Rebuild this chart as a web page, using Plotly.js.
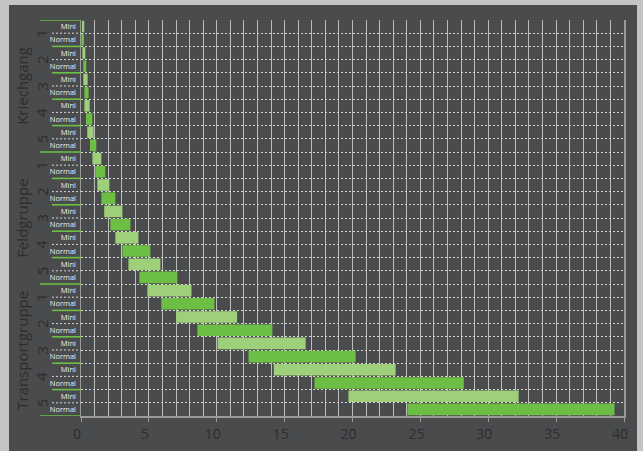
<!DOCTYPE html>
<html>
<head>
<meta charset="utf-8">
<script src="https://cdn.plot.ly/plotly-3.0.1.min.js"></script>
<style>
html,body{margin:0;padding:0;background:#c3c4c6;width:643px;height:451px;overflow:hidden;}
#chart{position:absolute;left:9px;top:5px;width:628px;height:446px;}
</style>
</head>
<body>
<div id="chart"></div>
<script>
// ---- data ----
const groups = ['Kriechgang', 'Feldgruppe', 'Transportgruppe'];
const gears = ['1', '2', '3', '4', '5'];
const types = ['Mini', 'Normal'];
// speed ranges (km/h), 15 gears: Kriechgang 1-5, Feldgruppe 1-5, Transportgruppe 1-5
const miniStart   = [0.07, 0.10, 0.17, 0.25, 0.46, 0.84, 1.20, 1.71, 2.53, 3.49, 4.89, 7.00, 10.06, 14.20, 19.70];
const miniEnd     = [0.24, 0.32, 0.49, 0.64, 0.93, 1.50, 2.09, 3.05, 4.23, 5.85, 8.14, 11.50, 16.55, 23.18, 32.24];
const normalStart = [0.02, 0.17, 0.25, 0.37, 0.66, 1.05, 1.50, 2.16, 3.05, 4.30, 5.92, 8.57, 12.34, 17.20, 24.04];
const normalEnd   = [0.22, 0.39, 0.56, 0.83, 1.13, 1.79, 2.53, 3.64, 5.11, 7.10, 9.83, 14.10, 20.23, 28.20, 39.30];
const xTicks = [0, 5, 10, 15, 20, 25, 30, 35, 40];

// ---- build ----
const nG = groups.length * gears.length;
const miniY = [], normalY = [], miniLen = [], normalLen = [];
for (let i = 0; i < nG; i++) {
  miniY.push(2 * i);
  normalY.push(2 * i + 1);
  miniLen.push(miniEnd[i] - miniStart[i]);
  normalLen.push(normalEnd[i] - normalStart[i]);
}
const tickvals = [], ticktext = [];
for (let i = 0; i < nG; i++) {
  tickvals.push(2 * i, 2 * i + 1);
  ticktext.push(types[0], types[1]);
}

const traces = [
  {type: 'bar', orientation: 'h', y: miniY, x: miniLen, base: miniStart, width: 0.88,
   marker: {color: '#9dd079', line: {width: 0}}, name: types[0]},
  {type: 'bar', orientation: 'h', y: normalY, x: normalLen, base: normalStart, width: 0.88,
   marker: {color: '#6dbe45', line: {width: 0}}, name: types[1]}
];

const nRows = nG * 2;
const shapes = [];
const green = '#6dbe45';
const xLong = -0.0755, xShort = -0.0534;
for (let r = 0; r <= nRows; r++) {
  const y = r - 0.5;
  if (r % 10 === 0) {
    shapes.push({type: 'line', xref: 'paper', yref: 'y', x0: xLong, x1: 0, y0: y, y1: y,
      line: {color: green, width: 1.6}});
  } else if (r % 2 === 0) {
    shapes.push({type: 'line', xref: 'paper', yref: 'y', x0: xShort, x1: 0, y0: y, y1: y,
      line: {color: green, width: 1.6}});
  } else {
    shapes.push({type: 'line', xref: 'paper', yref: 'y', x0: xShort, x1: 0, y0: y, y1: y,
      line: {color: '#d4d4d4', width: 1, dash: '2px,2px'}});
  }
}

const annotations = [];
for (let g = 0; g < groups.length; g++) {
  annotations.push({xref: 'paper', yref: 'y', x: -0.109, y: g * 10 + 4.5, text: groups[g],
    showarrow: false, textangle: -90, xanchor: 'center', yanchor: 'middle',
    font: {family: 'Open Sans', size: 15, color: '#2d2d2d'}});
  for (let k = 0; k < gears.length; k++) {
    annotations.push({xref: 'paper', yref: 'y', x: -0.0727, y: g * 10 + 2 * k + 0.5, text: gears[k],
      showarrow: false, textangle: -90, xanchor: 'center', yanchor: 'middle',
      font: {family: 'Open Sans', size: 15, color: '#2d2d2d'}});
  }
}

const layout = {
  width: 628, height: 446,
  margin: {l: 72, r: 13, t: 15, b: 35, pad: 0},
  paper_bgcolor: '#4a4b4d', plot_bgcolor: '#4a4b4d',
  showlegend: false, barmode: 'overlay',
  font: {family: 'Open Sans', color: '#2d2d2d'},
  xaxis: {
    range: [0, 40], tickvals: xTicks, ticktext: xTicks.map(String),
    showgrid: true, gridcolor: '#bdbdbd', gridwidth: 1,
    minor: {dtick: 1, tick0: 0, showgrid: true, gridcolor: '#bdbdbd', gridwidth: 1, ticks: ''},
    zeroline: false, showline: true, linecolor: '#9a9a9a', linewidth: 2, mirror: false,
    ticks: 'outside', ticklen: 4, tickwidth: 1, tickcolor: '#9a9a9a',
    ticklabelshift: -4,
    tickfont: {family: 'Open Sans', size: 14, color: '#2d2d2d'}
  },
  yaxis: {
    range: [nRows - 0.5, -0.5], tickvals: tickvals, ticktext: ticktext,
    showgrid: false, zeroline: false,
    minor: {tick0: 0.5, dtick: 1, showgrid: true, gridcolor: '#d4d4d4', griddash: '2px,2px', gridwidth: 1, ticks: ''},
    showline: true, linecolor: '#9a9a9a', linewidth: 1.5, mirror: true,
    ticks: '', ticklabelstandoff: 2,
    tickfont: {family: 'Open Sans', size: 7.5, color: '#eeeeee'}
  },
  shapes: shapes,
  annotations: annotations
};

Plotly.newPlot('chart', traces, layout, {staticPlot: true, displayModeBar: false});
</script>
</body>
</html>
